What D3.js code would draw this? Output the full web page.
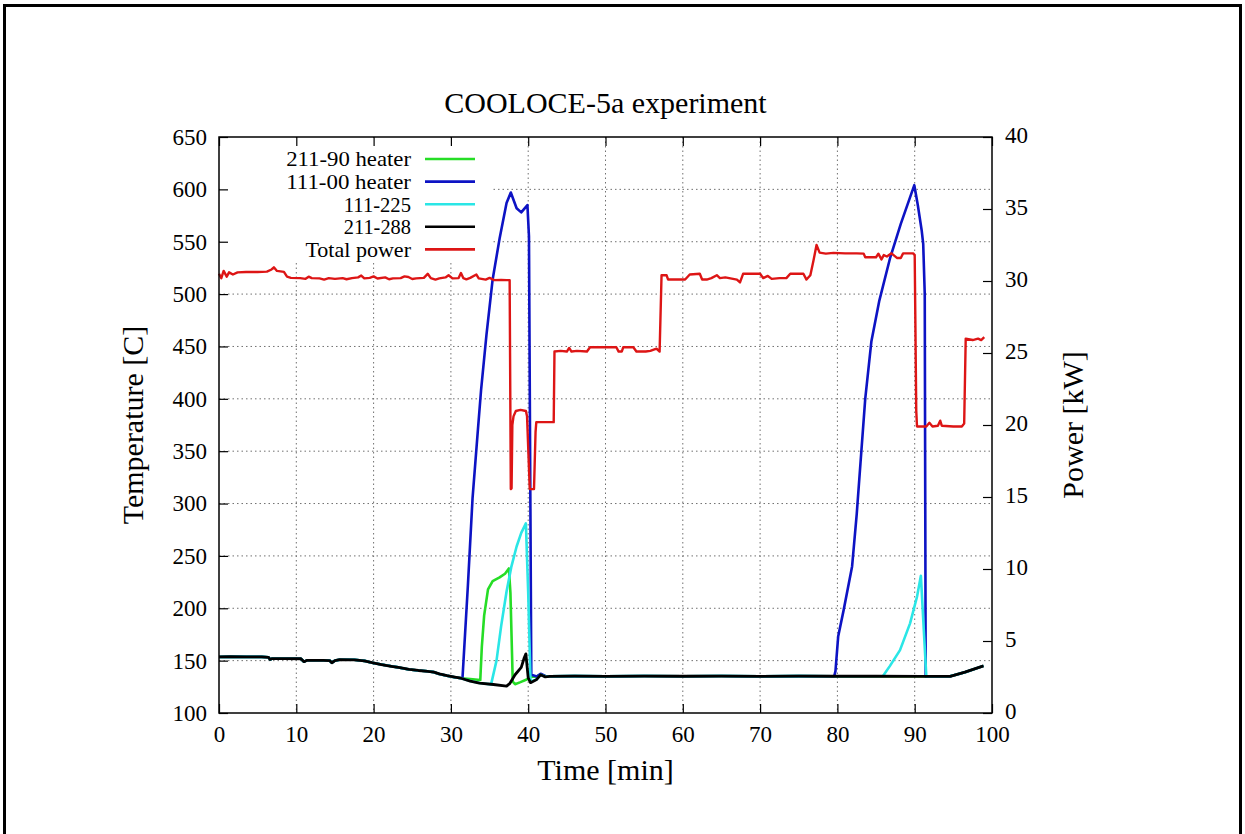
<!DOCTYPE html>
<html>
<head>
<meta charset="utf-8">
<script src="https://cdn.jsdelivr.net/npm/d3@7"></script>
<style>
body{margin:0;background:#fff}
svg{display:block}
text{font-family:"Liberation Serif","Times New Roman",serif;fill:#000}
</style>
</head>
<body>
<svg id="chart" width="1245" height="834"></svg>
<script>
// ---- data: [time min, value] ----
var timeTicks=[0,10,20,30,40,50,60,70,80,90,100]
var tempTicks=[100,150,200,250,300,350,400,450,500,550,600,650]
var powerTicks=[0,5,10,15,20,25,30,35,40]

// shared stretches where all thermocouples lie on top of each other
var baseEarly=[[0,153.5],[1.5,153.8],[3.5,153.6],[5.5,153.6],[6.4,153.2],[6.6,151.0],[6.9,152.0],[8.5,152.0],[10.6,151.8],[11.0,149.0],[11.4,150.3],[13.5,150.3],[14.3,150.1],[14.6,148.0],[15.0,150.0],[15.6,150.9],[17.5,150.8],[18.8,149.8],[19.8,148.0],[21.0,146.3],[22.3,144.6],[23.4,143.3],[24.6,141.6],[25.8,140.6],[27.0,139.8],[27.8,139.0],[28.5,137.3],[29.5,135.6],[30.5,134.2],[31.3,133.2]]
var baseMid=[[42.8,135.0],[46,135.2],[50,135.0],[55,135.3],[60,135.1],[65,135.3],[70,135.0],[75,135.2],[79.5,135.1]]
var baseTail=[[91.6,135.0],[94.6,135.0],[96.5,139.0],[98.9,145.0]]

var heater211_90=baseEarly.concat([[32.5,132.4],[33.8,131.5],[34.0,163],[34.3,193],[34.8,218],[35.4,226],[36.3,229.5],[37.0,233],[37.5,238],[37.7,215],[38.0,130],[38.3,127.5],[39.0,129.5],[39.8,132],[40.3,134.5],[41.1,135],[41.6,136.8],[42.2,135.3]],baseMid,[[85,135.1],[91,135.1]],baseTail)
var heater111_00=baseEarly.concat([[31.5,133.3],[32.2,222],[32.8,305],[33.5,371],[33.9,408],[34.6,461],[35.4,514],[36.3,553],[37.2,587],[37.75,597],[38.5,582],[39.1,578],[39.9,585],[40.1,555],[40.4,136.5],[41.1,134.8],[41.6,137.5],[42.2,135.3]],baseMid,[[79.6,135.5],[79.75,140],[80.1,173],[80.8,198],[81.9,240],[82.5,290],[83.0,340],[83.6,400],[84.4,455],[85.4,493],[86.8,534],[88.2,567],[89.95,604],[90.4,585],[90.9,561],[91.1,548],[91.3,500],[91.42,135.2]],baseTail)
var tc111_225=baseEarly.concat([[32.5,130.5],[33.7,128.6],[35.2,127.3],[35.9,150],[36.5,183],[37.2,216],[37.8,239],[38.5,259],[39.1,272],[39.7,281],[40.0,215],[40.3,130],[41.1,132],[41.6,136.5],[42.2,134.8]],baseMid,[[82,135.1],[85.9,135.3],[86.8,145],[88.1,160],[89.4,185.6],[90.3,211],[90.8,231],[91.5,135.3]],baseTail)
var tc211_288=baseEarly.concat([[32.5,130.5],[33.7,128.6],[35.5,127.2],[37.2,125.6],[37.6,128],[38.3,136.5],[39.1,143.5],[39.5,153],[39.7,156.5],[40.0,133.5],[40.3,129],[41.1,132],[41.6,136.5],[42.2,134.5]],baseMid,[[85,135.1],[91,135.0]],baseTail)

var totalPower=[[0,30.5],[0.3,30.2],[0.6,30.7],[1.0,30.3],[1.3,30.6],[1.8,30.45],[2.4,30.6],[3.5,30.63],[5.0,30.63],[6.2,30.65],[6.8,30.8],[7.1,30.95],[7.5,30.7],[8.4,30.63],[8.8,30.3],[9.3,30.22],[10.5,30.2],[11.2,30.15],[11.6,30.3],[12.0,30.2],[13.0,30.18],[13.6,30.1],[14.2,30.2],[15.0,30.15],[16.0,30.2],[16.5,30.12],[17.2,30.2],[18.0,30.25],[18.4,30.38],[18.8,30.18],[19.5,30.22],[20.0,30.32],[20.5,30.17],[21.5,30.25],[22.0,30.12],[22.5,30.18],[23.5,30.2],[24.0,30.32],[24.5,30.28],[25.0,30.14],[25.5,30.18],[26.5,30.22],[27.0,30.5],[27.4,30.2],[28.0,30.1],[28.5,30.18],[29.3,30.25],[29.7,30.4],[30.2,30.18],[31.0,30.2],[31.3,30.55],[31.6,30.2],[32.0,30.12],[32.5,30.22],[33.3,30.45],[33.6,30.18],[34.5,30.1],[35.0,30.22],[35.6,30.06],[36.5,30.08],[37.2,30.06],[37.6,30.06],[37.75,15.55],[37.85,15.6],[37.95,20.0],[38.1,20.6],[38.4,20.97],[39.0,21.05],[39.7,20.97],[39.85,20.6],[40.2,15.55],[40.75,15.55],[40.95,19.5],[41.05,20.2],[42.0,20.2],[43.3,20.2],[43.4,25.1],[44.2,25.15],[45.0,25.1],[45.3,25.35],[45.6,25.1],[46.3,25.15],[47.6,25.1],[48.0,25.4],[49.5,25.4],[50.5,25.4],[51.4,25.4],[51.7,25.1],[52.1,25.1],[52.3,25.4],[53.6,25.4],[54.0,25.1],[55.2,25.1],[55.8,25.15],[56.6,25.3],[57.0,25.1],[57.25,30.4],[57.9,30.4],[58.1,30.1],[60.3,30.1],[60.9,30.45],[62.2,30.5],[62.5,30.1],[63.1,30.1],[63.7,30.2],[64.4,30.4],[64.8,30.2],[65.5,30.25],[66.5,30.15],[67.0,30.1],[67.4,29.9],[67.8,30.5],[70.0,30.5],[70.4,30.2],[71.0,30.35],[71.5,30.15],[72.5,30.2],[73.4,30.2],[73.9,30.5],[75.6,30.5],[76.0,30.1],[76.5,30.4],[76.9,31.4],[77.3,32.5],[77.7,31.97],[78.5,31.9],[79.5,31.95],[81.0,31.92],[82.5,31.92],[83.4,31.9],[83.6,31.65],[85.0,31.65],[85.3,31.9],[85.7,31.5],[86.0,31.8],[86.4,31.7],[87.0,31.92],[87.7,31.6],[88.2,31.6],[88.5,31.92],[89.8,31.92],[90.0,31.8],[90.2,21.0],[90.3,19.9],[91.5,19.9],[91.9,20.15],[92.3,19.9],[93.0,19.95],[93.3,20.3],[93.5,19.95],[95.0,19.9],[96.1,19.9],[96.4,20.1],[96.6,26.0],[97.5,25.9],[98.2,26.0],[98.6,25.9],[99.0,26.1]]

var series=[
    {name:'211-90 heater',data:heater211_90,color:'#26dd26',axis:'T',w:2.6},
    {name:'111-00 heater',data:heater111_00,color:'#0d13c4',axis:'T',w:2.6},
    {name:'111-225',data:tc111_225,color:'#2ae6e6',axis:'T',w:2.6},
    {name:'211-288',data:tc211_288,color:'#000000',axis:'T',w:2.8},
    {name:'Total power',data:totalPower,color:'#dd1515',axis:'P',w:2.4}
]

var conf={left:219,right:992,top:137,bottom:713}
var svg=d3.select('#chart')

var x=d3.scaleLinear().domain([0,100]).range([conf.left,conf.right])
var yT=d3.scaleLinear().domain([100,650]).range([conf.bottom,conf.top])
var yP=d3.scaleLinear().domain([0,40]).range([conf.bottom,conf.top])

// outer frame of the figure
svg.append('path')
    .attr('d','M4.5,840V5.5H1240.5V840')
    .attr('fill','none').attr('stroke','#000').attr('stroke-width',3)

// grid
var grid=svg.append('g').attr('stroke','#707070').attr('stroke-width',1).attr('stroke-dasharray','1.5,3')
grid.selectAll('line.gx').data(timeTicks.slice(1,-1)).join('line')
    .attr('x1',d=>x(d)).attr('x2',d=>x(d)).attr('y1',conf.top).attr('y2',conf.bottom)
grid.selectAll('line.gy').data(tempTicks.slice(1,-1)).join('line')
    .attr('x1',conf.left).attr('x2',conf.right).attr('y1',d=>yT(d)).attr('y2',d=>yT(d))

// opaque key box
svg.append('rect').attr('x',conf.left+1).attr('y',conf.top+1).attr('width',271).attr('height',124).attr('fill','#fff')

// data
var lines=svg.append('g').attr('fill','none').attr('stroke-linejoin','round')
series.forEach(s=>{
    var yy=s.axis=='T'?yT:yP
    var line=d3.line().x(d=>x(d[0])).y(d=>yy(d[1]))
    lines.append('path').datum(s.data)
        .attr('d',line)
        .attr('stroke',s.color)
        .attr('stroke-width',s.w)
})

// axes
function styleAxis(g){
    g.select('.domain').remove()
    g.selectAll('.tick line').attr('stroke','#000').attr('stroke-width',1.2)
    g.selectAll('.tick text').attr('font-size',23).attr('font-family','"Liberation Serif",serif')
}
svg.append('g').attr('transform',`translate(0,${conf.bottom})`)
    .call(d3.axisBottom(x).tickValues(timeTicks).tickSize(-9).tickPadding(13))
    .call(styleAxis)
svg.append('g').attr('transform',`translate(0,${conf.top})`)
    .call(d3.axisTop(x).tickValues(timeTicks).tickSize(-9).tickFormat(''))
    .call(styleAxis)
svg.append('g').attr('transform',`translate(${conf.left},0)`)
    .call(d3.axisLeft(yT).tickValues(tempTicks).tickSize(-9).tickPadding(12))
    .call(styleAxis)
svg.append('g').attr('transform',`translate(${conf.right},0)`)
    .call(d3.axisRight(yP).tickValues(powerTicks).tickSize(-9).tickPadding(13))
    .call(styleAxis)
    .selectAll('.tick text').attr('dy','0.25em')

svg.append('rect')
    .attr('x',conf.left).attr('y',conf.top)
    .attr('width',conf.right-conf.left).attr('height',conf.bottom-conf.top)
    .attr('fill','none').attr('stroke','#000').attr('stroke-width',1.5)

// legend
var key=svg.append('g')
series.forEach((s,i)=>{
    var yk=159+i*22.6
    key.append('text').attr('x',411).attr('y',yk).attr('dy','0.35em')
        .attr('text-anchor','end').attr('font-size',21)
        .attr('textLength',s.name.length*9.6).attr('lengthAdjust','spacingAndGlyphs')
        .text(s.name)
    key.append('line').attr('x1',425).attr('x2',475).attr('y1',yk).attr('y2',yk)
        .attr('stroke',s.color).attr('stroke-width',2.6)
})

// titles
svg.append('text').attr('x',(conf.left+conf.right)/2).attr('y',113)
    .attr('text-anchor','middle').attr('font-size',30).text('COOLOCE-5a experiment')
svg.append('text').attr('x',(conf.left+conf.right)/2).attr('y',780)
    .attr('text-anchor','middle').attr('font-size',30).text('Time [min]')
svg.append('text').attr('transform',`translate(143,${(conf.top+conf.bottom)/2}) rotate(-90)`)
    .attr('text-anchor','middle').attr('font-size',30).text('Temperature [C]')
svg.append('text').attr('transform',`translate(1083,${(conf.top+conf.bottom)/2}) rotate(-90)`)
    .attr('text-anchor','middle').attr('font-size',30).text('Power [kW]')
</script>
</body>
</html>
